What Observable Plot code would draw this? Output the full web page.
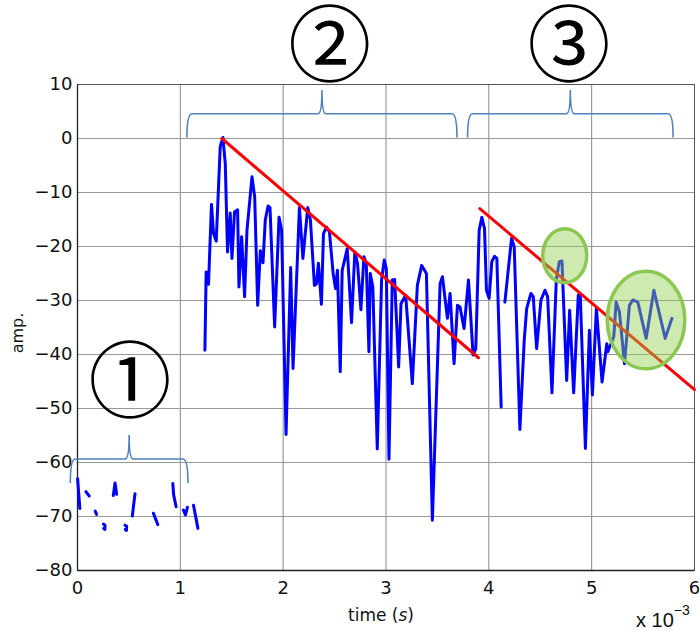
<!DOCTYPE html>
<html><head><meta charset="utf-8">
<script src="https://cdn.jsdelivr.net/npm/d3@7"></script>
<script src="https://cdn.jsdelivr.net/npm/@observablehq/plot@0.6"></script>
<style>body{margin:0;background:#fff}#chart{width:700px;height:631px}</style>
</head><body><div id="chart"></div>
<script>
// signal (time in units of 1e-3 s, amplitude)
const sigPart = [
  "p1","p1","p2","p2","p3","p3","p4","p4","p4","p4","p5","p5","p5","p6","p6","p6","p6",
  "p7","p7","p8","p8","p9","p9","p9","p10","p10","p10","p11","p11"
];
const sigTime = [
  0.001,0.023, 0.082,0.114, 0.172,0.186, 0.252,0.268,0.266,0.254, 0.348,0.365,0.381, 0.462,0.478,0.476,0.464,
  0.533,0.559, 0.738,0.781, 0.927,0.935,0.959, 1.030,1.050,1.069, 1.128,1.171
];
const sigAmp = [
  -63.0,-68.5, -65.4,-66.2, -69.0,-69.6, -71.4,-71.6,-72.4,-72.2, -66.1,-63.8,-65.9, -71.6,-71.8,-72.6,-72.4,
  -69.9,-65.8, -69.4,-71.5, -63.9,-66.0,-68.2, -68.8,-69.7,-68.3, -67.9,-72.2
];
const mainTime = [
  1.239,1.251,1.274,1.303,1.323,1.349,1.388,1.414,1.437,1.459,1.485,1.502,1.527,1.557,1.570,1.596,1.625,1.648,1.697,1.723,
  1.752,1.778,1.804,1.826,1.853,1.872,1.917,1.960,1.985,2.028,2.073,2.096,2.158,2.192,2.239,2.265,2.304,2.324,2.343,2.372,
  2.392,2.421,2.450,2.486,2.509,2.528,2.555,2.574,2.623,2.665,2.697,2.723,2.756,2.785,2.808,2.834,2.847,2.872,2.915,2.957,
  2.983,3.003,3.029,3.061,3.084,3.123,3.146,3.191,3.256,3.305,3.347,3.393,3.451,3.526,3.549,3.597,3.623,3.662,3.695,3.720,
  3.759,3.802,3.847,3.873,3.906,3.932,3.958,3.977,4.003,4.029,4.056,4.078,4.120
];
const mainAmp = [
  -39.2,-24.7,-27.0,-12.2,-17.6,-19.0,-1.5,0.2,-4.6,-21.0,-13.8,-22.2,-13.6,-13.2,-27.5,-18.2,-29.3,-17.0,-7.1,-10.8,
  -30.9,-20.8,-23.0,-15.1,-12.5,-12.8,-34.9,-14.6,-17.0,-54.8,-23.9,-42.6,-12.8,-22.2,-12.8,-15.1,-27.2,-26.9,-23.1,-30.7,
  -17.6,-16.4,-17.3,-25.0,-27.8,-24.4,-43.2,-24.4,-20.4,-34.1,-21.0,-23.1,-31.7,-21.9,-23.1,-39.5,-25.0,-27.5,-57.5,-26.2,
  -22.5,-24.1,-59.4,-26.2,-26.1,-42.3,-30.6,-29.0,-45.4,-27.2,-23.5,-25.0,-70.7,-26.9,-25.6,-33.3,-28.7,-41.7,-30.9,-31.2,
  -35.2,-26.2,-40.1,-38.9,-17.0,-14.6,-16.7,-28.1,-29.6,-22.8,-21.8,-22.2,-49.7
];
const lateTime = [
  4.156,4.221,4.247,4.302,4.344,4.368,4.409,4.432,4.465,4.507,4.546,4.572,4.614,4.656,4.685,4.711,4.757,4.786,4.825,4.870,
  4.890,4.939,4.978,5.007,5.046,5.101,5.147,5.157,5.215,5.238,5.270,5.319,5.367,5.400,5.449,5.530,5.605,5.715,5.781
];
const lateAmp = [
  -30.3,-18.5,-20.1,-53.9,-37.4,-31.5,-28.7,-29.3,-38.9,-29.9,-28.1,-29.3,-47.1,-26.2,-22.8,-22.7,-44.8,-31.8,-47.1,-29.0,
  -29.3,-57.4,-35.5,-47.5,-31.5,-45.1,-38.0,-39.5,-36.7,-30.3,-32.1,-41.7,-30.9,-29.9,-30.3,-37.0,-28.1,-37.0,-33.3
];
// red decay lines
const trendPart = ["a","a","b","b"];
const trendTime = [1.404, 3.899, 3.912, 6.0];
const trendAmp = [0, -40.6, -13.0, -46.5];
// highlighted areas (center and half-extent in data units)
const hiTime = [4.743, 5.533];
const hiAmp = [-21.8, -33.7];
const hiHalfTime = [0.214, 0.377];
const hiHalfAmp = [5.0, 9.04];
// braces
const braceStart = [-0.065, 1.069, 3.798];
const braceEnd = [1.079, 3.695, 5.797];
const braceBase = [-63.9, 0.1, 0.1];
const braceTip = [-55.0, 8.9, 8.9];
// region labels
const regionLabel = ["①", "②", "③"];
const regionTime = [0.511, 2.453, 4.78];
const regionAmp = [-44.9, 17.2, 17.2];
// ticks
const xTicks = [0, 1, 2, 3, 4, 5, 6];
const yTicks = [-80, -70, -60, -50, -40, -30, -20, -10, 0, 10];

const sig = sigTime.map((t, i) => ({t, a: sigAmp[i], part: sigPart[i]}))
  .concat(mainTime.map((t, i) => ({t, a: mainAmp[i], part: "main"})))
  .concat(lateTime.map((t, i) => ({t, a: lateAmp[i], part: "late"})));
const trend = trendTime.map((t, i) => ({t, a: trendAmp[i], part: trendPart[i]}));
const labels = regionLabel.map((s, i) => ({s, t: regionTime[i], a: regionAmp[i]}));

function ellipses(index, scales) {
  const g = d3.create("svg:g");
  hiTime.forEach((t, i) => {
    const cx = scales.x(t), cy = scales.y(hiAmp[i]);
    g.append("ellipse").attr("cx", cx).attr("cy", cy)
      .attr("rx", Math.abs(scales.x(t + hiHalfTime[i]) - cx))
      .attr("ry", Math.abs(scales.y(hiAmp[i] + hiHalfAmp[i]) - cy))
      .attr("fill", "rgba(146,208,80,0.45)")
      .attr("stroke", "#8cc751").attr("stroke-width", 3.5);
  });
  return g.node();
}
function braces(index, scales) {
  const g = d3.create("svg:g");
  braceStart.forEach((s, i) => {
    const x1 = scales.x(s), x2 = scales.x(braceEnd[i]);
    const xm = (x1 + x2) / 2;
    const yb = scales.y(braceBase[i]), yt = scales.y(braceTip[i]);
    const ym = (yb + yt) / 2;
    const p = `M${x1},${yb} Q${x1},${ym} ${x1 + 5},${ym} L${xm - 4},${ym} Q${xm},${ym} ${xm},${yt} Q${xm},${ym} ${xm + 4},${ym} L${x2 - 5},${ym} Q${x2},${ym} ${x2},${yb}`;
    g.append("path").attr("d", p).attr("fill", "none")
      .attr("stroke", "#4f81bd").attr("stroke-width", 1.6);
  });
  return g.node();
}

const plot = Plot.plot({
  width: 700, height: 631,
  marginTop: 84, marginLeft: 77, marginRight: 6, marginBottom: 61,
  style: {fontFamily: "DejaVu Sans", fontSize: "18px", background: "#fff", color: "#111"},
  x: {domain: [0, 6], ticks: xTicks, tickFormat: d3.format("d"), tickSize: 0, tickPadding: 11, label: null},
  y: {domain: [-80, 10], ticks: yTicks, tickSize: 0, tickPadding: 5, label: null},
  marks: [
    Plot.ruleX(xTicks, {stroke: "#888", strokeWidth: 1}),
    Plot.ruleY(yTicks, {stroke: "#999", strokeWidth: 1.2}),
    Plot.frame({stroke: "#555"}),
    Plot.ruleX([0], {stroke: "#222", strokeWidth: 1.3}),
    Plot.ruleY([-80], {stroke: "#222", strokeWidth: 1.3}),
    Plot.line(sig, {x: "t", y: "a", z: "part", stroke: "#0000ff", strokeWidth: 3, strokeLinejoin: "round", strokeLinecap: "round"}),
    Plot.line(trend, {x: "t", y: "a", z: "part", stroke: "#ff0000", strokeWidth: 3}),
    ellipses,
    braces,
    Plot.text(labels, {x: "t", y: "a", text: "s", fontSize: 83, fill: "#000", fontFamily: "Noto Sans CJK JP", dy: 3})
  ]
});
const svg = d3.select(plot);
svg.append("text").attr("x", 381).attr("y", 621).attr("text-anchor", "middle")
  .attr("font-family", "DejaVu Sans").attr("font-size", 17).attr("fill", "#111")
  .call(t => { t.append("tspan").text("time ("); t.append("tspan").attr("font-style", "italic").text("s"); t.append("tspan").text(")"); });
svg.append("text").attr("transform", "translate(23,333) rotate(-90)").attr("text-anchor", "middle")
  .attr("font-family", "DejaVu Sans").attr("font-size", 16).attr("fill", "#111").text("amp.");
svg.append("text").attr("x", 636).attr("y", 627).attr("text-anchor", "start")
  .attr("font-family", "Liberation Sans").attr("font-size", 20).attr("fill", "#111")
  .call(t => { t.append("tspan").text("x 10"); t.append("tspan").attr("dy", -12).attr("font-size", 14).text("−3"); });
document.getElementById("chart").appendChild(plot);
</script>
</body></html>
